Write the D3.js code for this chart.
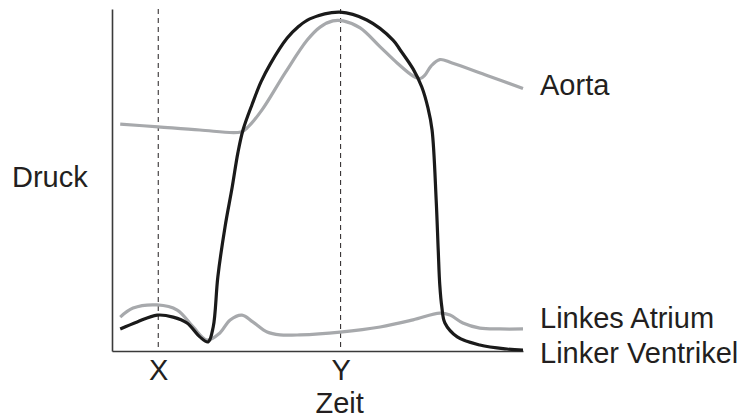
<!DOCTYPE html>
<html>
<head>
<meta charset="utf-8">
<script src="https://cdn.jsdelivr.net/npm/d3@7"></script>
<style>
  html, body { margin: 0; padding: 0; background: #fff; }
  svg { display: block; }
  text { font-family: "Liberation Sans", Arial, sans-serif; fill: #231f20; }
</style>
</head>
<body>
<svg id="chart" width="742" height="418"></svg>
<script>
// time (ms) and pressure (mmHg-like units)
const ventricleTime = [16,49,88,119,146,171,187,197,206,220,234,245,255,273,290,308,341,362,385,444,496,547,561,586,603,615,623,631,635,638,642,648,672,716,769,800];
const ventriclePressure = [7.8,10.3,12.7,12.0,9.9,5.0,3.2,8.5,26.2,43.9,58.0,70.1,78.2,87.4,95.2,101.5,110.7,114.6,117.5,119.9,117.1,110.0,106.5,99.8,93.4,86.0,78.2,53.4,35.7,23.4,15.6,9.9,5.0,2.1,0.7,0.35];

const aortaTime = [16,90,171,251,265,292,337,380,405,430,450,483,522,555,586,600,609,621,638,662,730,800];
const aortaPressure = [80.3,79.3,78.2,77.5,79.3,85.3,98.4,110.0,114.6,116.8,116.8,114.3,107.6,101.9,97.3,96.4,97.6,100.8,103.1,101.9,97.5,92.9];

const atriumTime = [16,41,88,127,158,185,210,230,253,274,302,327,366,444,522,586,638,658,683,716,755,800];
const atriumPressure = [12.0,15.2,16.3,14.5,8.5,3.9,6.4,11.0,12.7,10.3,6.7,5.7,5.7,6.7,8.5,11.0,13.4,12.7,9.9,8.1,7.8,7.8];

const markerTimes = [90, 445];
const markerLabels = ["X", "Y"];
const seriesLabels = ["Aorta", "Linkes Atrium", "Linker Ventrikel"];
const labelPressure = [90.6, 8.1, -4.3];
const xTitle = "Zeit";
const yTitle = "Druck";

const svg = d3.select("#chart");
const x = d3.scaleLinear().domain([0, 800]).range([112, 523]);
const y = d3.scaleLinear().domain([0, 121]).range([351, 9]);

const line = d3.line()
  .x(d => x(d[0]))
  .y(d => y(d[1]))
  .curve(d3.curveCatmullRom.alpha(0.5));

// dashed markers
svg.selectAll("line.marker")
  .data(markerTimes)
  .join("line")
  .attr("class", "marker")
  .attr("x1", d => x(d)).attr("x2", d => x(d))
  .attr("y1", y(121)).attr("y2", y(0))
  .attr("stroke", "#231f20")
  .attr("stroke-width", 1)
  .attr("stroke-dasharray", "5,4");

// axes
const xAxis = d3.axisBottom(x)
  .tickValues(markerTimes)
  .tickFormat((d, i) => markerLabels[i])
  .tickSize(0)
  .tickSizeOuter(0)
  .tickPadding(8);
const gx = svg.append("g").attr("transform", `translate(0,${y(0)})`).call(xAxis);
gx.select(".domain").attr("stroke", "#3a3a3a").attr("stroke-width", 1.6);
gx.selectAll("text").attr("font-size", 29).attr("font-family", "Liberation Sans, Arial, sans-serif").attr("fill", "#231f20");

const yAxis = d3.axisLeft(y).tickValues([]).tickSizeOuter(0);
const gy = svg.append("g").attr("transform", `translate(${x(0)},0)`).call(yAxis);
gy.select(".domain").attr("stroke", "#3a3a3a").attr("stroke-width", 1.6);

// curves
const grayColor = "#a7a9ac";
svg.append("path")
  .datum(d3.zip(aortaTime, aortaPressure))
  .attr("d", line).attr("fill", "none")
  .attr("stroke", grayColor).attr("stroke-width", 3.2);
svg.append("path")
  .datum(d3.zip(atriumTime, atriumPressure))
  .attr("d", line).attr("fill", "none")
  .attr("stroke", grayColor).attr("stroke-width", 3.2);
svg.append("path")
  .datum(d3.zip(ventricleTime, ventriclePressure))
  .attr("d", line).attr("fill", "none")
  .attr("stroke", "#1a1a1a").attr("stroke-width", 3.2);

// series labels
svg.selectAll("text.series")
  .data(seriesLabels)
  .join("text")
  .attr("class", "series")
  .attr("x", 540)
  .attr("y", (d, i) => y(labelPressure[i]))
  .attr("font-size", 29)
  .text(d => d);

// axis titles
svg.append("text")
  .attr("x", x(445) - 1).attr("y", 413)
  .attr("text-anchor", "middle")
  .attr("font-size", 29)
  .text(xTitle);
svg.append("text")
  .attr("x", 12).attr("y", 187)
  .attr("font-size", 29)
  .text(yTitle);
</script>
</body>
</html>
